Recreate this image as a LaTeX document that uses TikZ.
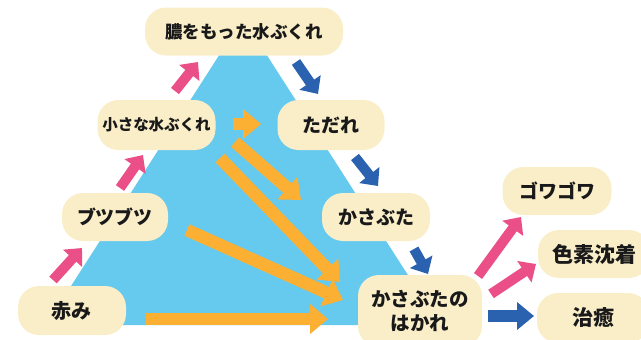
\documentclass[tikz,border=0pt]{standalone}
\usepackage{fontspec}
\newfontfamily\jp{Noto Sans CJK JP}
\usetikzlibrary{arrows.meta}
\definecolor{tri}{HTML}{66C9EE}
\definecolor{boxfill}{HTML}{FAEEC9}
\definecolor{pinkc}{HTML}{EA4F87}
\definecolor{bluec}{HTML}{2B62B0}
\definecolor{orangec}{HTML}{FBB034}
\begin{document}
\begin{tikzpicture}[x=1pt,y=-1pt,
  box/.style={fill=boxfill, rounded corners=21pt, minimum height=48pt, inner sep=0pt,
    font=\jp\bfseries\fontsize{19}{24}\selectfont, text=black!90, align=center},
  parr/.style={draw=pinkc, line width=10pt, -{Triangle[width=25pt,length=14pt]}},
  barr/.style={draw=bluec, line width=10pt, -{Triangle[width=25pt,length=14pt]}},
  oarr/.style={draw=orangec, line width=12.5pt, -{Triangle[width=29pt,length=18pt]}}]
\useasboundingbox (0,0) rectangle (641,340);
\fill[tri] (243,18) -- (440,325) -- (46,325) -- cycle;

% arrow end points
\coordinate (p1a) at (53,280);  \coordinate (p1b) at (82,248);
\coordinate (p2a) at (120,188); \coordinate (p2b) at (143,155);
\coordinate (p3a) at (175,91);  \coordinate (p3b) at (198,62);
\coordinate (b1a) at (296,62);  \coordinate (b1b) at (318,94);
\coordinate (b2a) at (355,157); \coordinate (b2b) at (378,186);
\coordinate (b3a) at (414,249); \coordinate (b3b) at (428,274);
\coordinate (p4a) at (478,276); \coordinate (p4b) at (521,217);
\coordinate (p5a) at (491,294); \coordinate (p5b) at (536,264);
\coordinate (b4a) at (488,316); \coordinate (b4b) at (534,316);
\coordinate (o1a) at (233,124); \coordinate (o1b) at (261,124);
\coordinate (o2a) at (235,142); \coordinate (o2b) at (301,200);
\coordinate (o3a) at (220,158); \coordinate (o3b) at (340,282);
\coordinate (o4a) at (187,230); \coordinate (o4b) at (343,300);
\coordinate (o5a) at (146,319); \coordinate (o5b) at (328,319);

\draw[parr] (p1a) -- (p1b);
\draw[parr] (p2a) -- (p2b);
\draw[parr] (p3a) -- (p3b);
\draw[barr] (b1a) -- (b1b);
\draw[barr] (b2a) -- (b2b);
\draw[barr] (b3a) -- (b3b);
\draw[parr] (p4a) -- (p4b);
\draw[parr] (p5a) -- (p5b);
\draw[barr, line width=12pt, -{Triangle[width=27pt,length=17pt]}] (b4a) -- (b4b);
\draw[oarr] (o1a) -- (o1b);
\draw[oarr] (o2a) -- (o2b);
\draw[oarr] (o3a) -- (o3b);
\draw[oarr] (o4a) -- (o4b);
\draw[oarr] (o5a) -- (o5b);

% boxes
\node[box, minimum width=198pt, font=\jp\bfseries\fontsize{17.5}{22}\selectfont] (umi) at (244,31.5) {膿をもった水ぶくれ};
\node[box, minimum width=118pt, minimum height=50pt, font=\jp\bfseries\fontsize{15.5}{20}\selectfont] (chiisa) at (156.5,125) {小さな水ぶくれ};
\node[box, minimum width=107pt, minimum height=50pt] (tadare) at (331,125) {ただれ};
\node[box, minimum width=106pt] (butsu) at (115,217) {ブツブツ};
\node[box, minimum width=108pt] (kasa) at (376,217) {かさぶた};
\node[box, minimum width=108pt, minimum height=49pt, font=\jp\bfseries\fontsize{20}{24}\selectfont] (akami) at (72,310.5) {赤み};
\node[box, minimum width=124pt, minimum height=72pt, font=\jp\bfseries\fontsize{19.5}{24}\selectfont] (hakare) at (420,311) {かさぶたの\\はかれ};
\node[box, minimum width=109pt] (gowa) at (557,191) {ゴワゴワ};
\node[box, minimum width=112pt, font=\jp\bfseries\fontsize{21}{24}\selectfont] (shiki) at (594,254) {色素沈着};
\node[box, minimum width=112pt, minimum height=50pt, font=\jp\bfseries\fontsize{21}{24}\selectfont] (chiyu) at (593,318) {治癒};
\end{tikzpicture}
\end{document}
